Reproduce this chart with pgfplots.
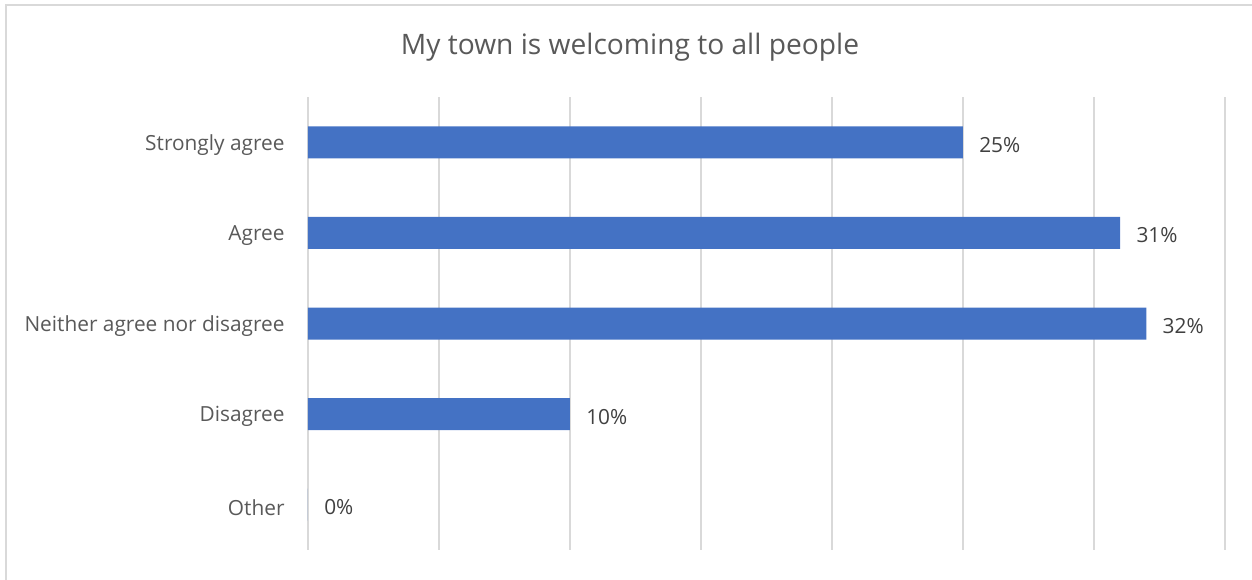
\documentclass[border=0pt]{standalone}
\usepackage{pgfplots}
\pgfplotsset{compat=1.18}
\usepackage{fontspec}
\setmainfont{Open Sans}
\definecolor{barblue}{HTML}{4472C4}
\definecolor{gridgray}{HTML}{D9D9D9}
\definecolor{txtgray}{HTML}{595959}
\definecolor{valgray}{HTML}{404040}
\begin{document}
\begin{tikzpicture}[x=0.6pt,y=0.6pt]
\useasboundingbox (0,0) rectangle (1252,580);
\draw[gridgray, line width=1.5pt] (6,-20) rectangle (1275,575);
\node[txtgray, font=\fontsize{16.9}{20}\selectfont] at (630,533) {My town is welcoming to all people};
\begin{axis}[
  at={(184.8pt,18pt)}, anchor=south west,
  scale only axis, width=550.2pt, height=271.8pt,
  xmin=0, xmax=35, ymin=-0.5, ymax=4.5, y dir=reverse,
  xbar, bar width=19.2pt,
  xtick={0,5,...,35}, xticklabels={},
  xmajorgrids, major grid style={gridgray, line width=1.2pt},
  ytick={0,...,4},
  yticklabels={Strongly agree,Agree,Neither agree nor disagree,Disagree,Other},
  axis line style={draw=none}, tick style={draw=none},
  yticklabel style={txtgray, font=\fontsize{12.5}{15}\selectfont, inner xsep=0pt, xshift=-9.6pt, yshift=-1.5pt},
  /pgf/number format/assume math mode=true,
  nodes near coords={\pgfmathprintnumber{\pgfplotspointmeta}\%},
  nodes near coords style={valgray, font=\fontsize{12.5}{15}\selectfont, anchor=west, inner xsep=0pt, xshift=9.6pt, yshift=-1.5pt},
  point meta=x,
]
\addplot[fill=barblue, draw=none] coordinates {(25,0) (31,1) (32,2) (10,3) (0,4)};
\end{axis}
\end{tikzpicture}
\end{document}
